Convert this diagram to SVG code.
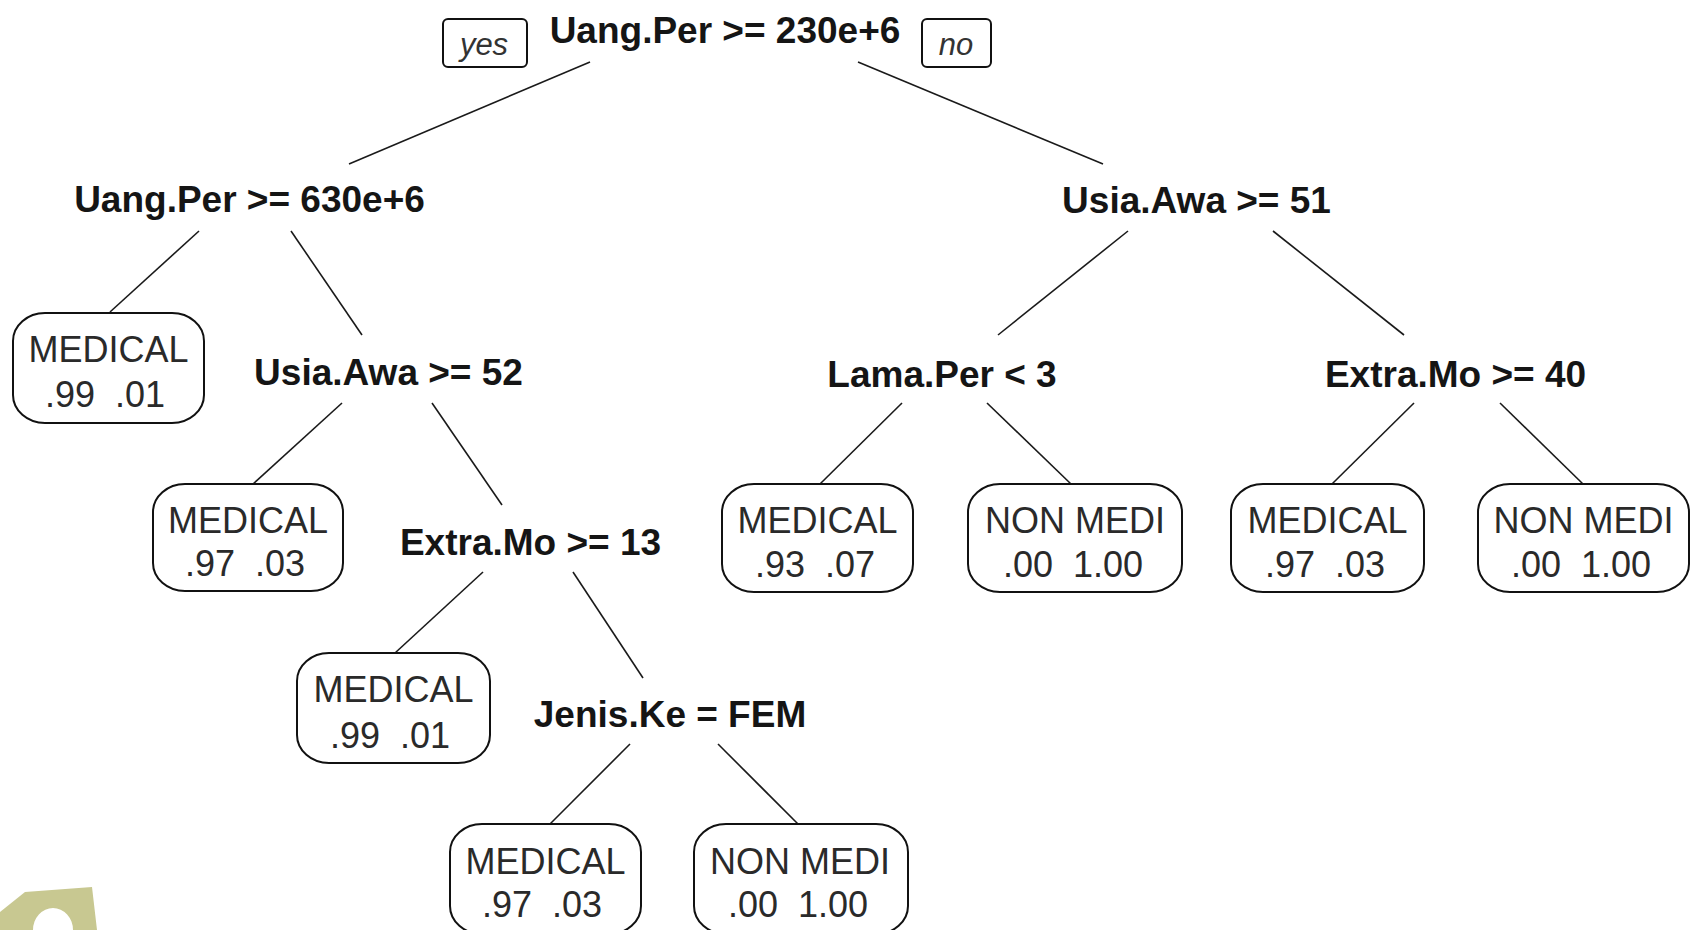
<svg xmlns="http://www.w3.org/2000/svg" width="1696" height="930" viewBox="0 0 1696 930">
<style>
.split{font-family:"Liberation Sans",Arial,sans-serif;font-weight:bold;font-size:37px;fill:#151515;text-anchor:middle}
.leafbox{fill:#ffffff;stroke:#111;stroke-width:2}
.leaf{font-family:"Liberation Sans",Arial,sans-serif;font-size:36px;fill:#2a2a2a;text-anchor:middle;white-space:pre}
.tag{fill:#ffffff;stroke:#111;stroke-width:2}
.tagt{font-family:"Liberation Sans",Arial,sans-serif;font-style:italic;font-size:31px;fill:#333;text-anchor:middle}
.edges line{stroke:#1a1a1a;stroke-width:1.6}
</style>
<rect width="1696" height="930" fill="#ffffff"/>
<path d="M0,912 L25,892 L92,887 L97,930 L73,930 A20,22 0 0 0 33,930 L0,930 Z" fill="#c8c891"/>
<g class="edges" id="connectors">
<line x1="590" y1="62" x2="349" y2="164"/>
<line x1="858" y1="62" x2="1103" y2="164"/>
<line x1="199" y1="231" x2="110" y2="312"/>
<line x1="291" y1="231" x2="362" y2="335"/>
<line x1="342" y1="403" x2="253" y2="484"/>
<line x1="432" y1="403" x2="502" y2="505"/>
<line x1="483" y1="572" x2="395" y2="653"/>
<line x1="573" y1="572" x2="643" y2="678"/>
<line x1="630" y1="744" x2="550" y2="824"/>
<line x1="718" y1="744" x2="798" y2="824"/>
<line x1="1128" y1="231" x2="998" y2="335"/>
<line x1="1273" y1="231" x2="1404" y2="335"/>
<line x1="902" y1="403" x2="820" y2="484"/>
<line x1="987" y1="403" x2="1071" y2="484"/>
<line x1="1414" y1="403" x2="1332" y2="484"/>
<line x1="1500" y1="403" x2="1583" y2="484"/>
</g>
<g id="yes-tag"><rect class="tag" x="443" y="19" width="84" height="48" rx="5"/><text class="tagt" x="484" y="55">yes</text></g>
<g id="no-tag"><rect class="tag" x="922" y="19" width="69" height="48" rx="5"/><text class="tagt" x="956" y="55">no</text></g>
<g id="n1"><text class="split" x="725" y="43">Uang.Per &gt;= 230e+6</text></g>
<g id="n2"><text class="split" x="249.5" y="212">Uang.Per &gt;= 630e+6</text></g>
<g id="n3"><text class="split" x="1196.5" y="213">Usia.Awa &gt;= 51</text></g>
<g id="n5"><text class="split" x="388.5" y="385">Usia.Awa &gt;= 52</text></g>
<g id="n6"><text class="split" x="942" y="387">Lama.Per &lt; 3</text></g>
<g id="n7"><text class="split" x="1455.5" y="387">Extra.Mo &gt;= 40</text></g>
<g id="n11"><text class="split" x="530.5" y="555">Extra.Mo &gt;= 13</text></g>
<g id="n23"><text class="split" x="670" y="727">Jenis.Ke = FEM</text></g>
<g id="n4"><rect class="leafbox" x="13" y="313" width="191" height="110" rx="32" ry="28"/><text class="leaf" x="108.5" y="362">MEDICAL</text><text class="leaf" x="105" y="407" xml:space="preserve">.99  .01</text></g>
<g id="n10"><rect class="leafbox" x="153" y="484" width="190" height="107" rx="32" ry="28"/><text class="leaf" x="248" y="533">MEDICAL</text><text class="leaf" x="245" y="576" xml:space="preserve">.97  .03</text></g>
<g id="n22"><rect class="leafbox" x="297" y="653" width="193" height="110" rx="32" ry="28"/><text class="leaf" x="393.5" y="702">MEDICAL</text><text class="leaf" x="390" y="748" xml:space="preserve">.99  .01</text></g>
<g id="n46"><rect class="leafbox" x="450" y="824" width="191" height="110" rx="32" ry="28"/><text class="leaf" x="545.5" y="874">MEDICAL</text><text class="leaf" x="542" y="917" xml:space="preserve">.97  .03</text></g>
<g id="n47"><rect class="leafbox" x="694" y="824" width="214" height="110" rx="32" ry="28"/><text class="leaf" x="800" y="874">NON MEDI</text><text class="leaf" x="798" y="917" xml:space="preserve">.00  1.00</text></g>
<g id="n12"><rect class="leafbox" x="722" y="484" width="191" height="108" rx="32" ry="28"/><text class="leaf" x="817.5" y="533">MEDICAL</text><text class="leaf" x="815" y="577" xml:space="preserve">.93  .07</text></g>
<g id="n13"><rect class="leafbox" x="968" y="484" width="214" height="108" rx="32" ry="28"/><text class="leaf" x="1075" y="533">NON MEDI</text><text class="leaf" x="1073" y="577" xml:space="preserve">.00  1.00</text></g>
<g id="n14"><rect class="leafbox" x="1231" y="484" width="193" height="108" rx="32" ry="28"/><text class="leaf" x="1327.5" y="533">MEDICAL</text><text class="leaf" x="1325" y="577" xml:space="preserve">.97  .03</text></g>
<g id="n15"><rect class="leafbox" x="1478" y="484" width="211" height="108" rx="32" ry="28"/><text class="leaf" x="1583.5" y="533">NON MEDI</text><text class="leaf" x="1581" y="577" xml:space="preserve">.00  1.00</text></g>
</svg>
